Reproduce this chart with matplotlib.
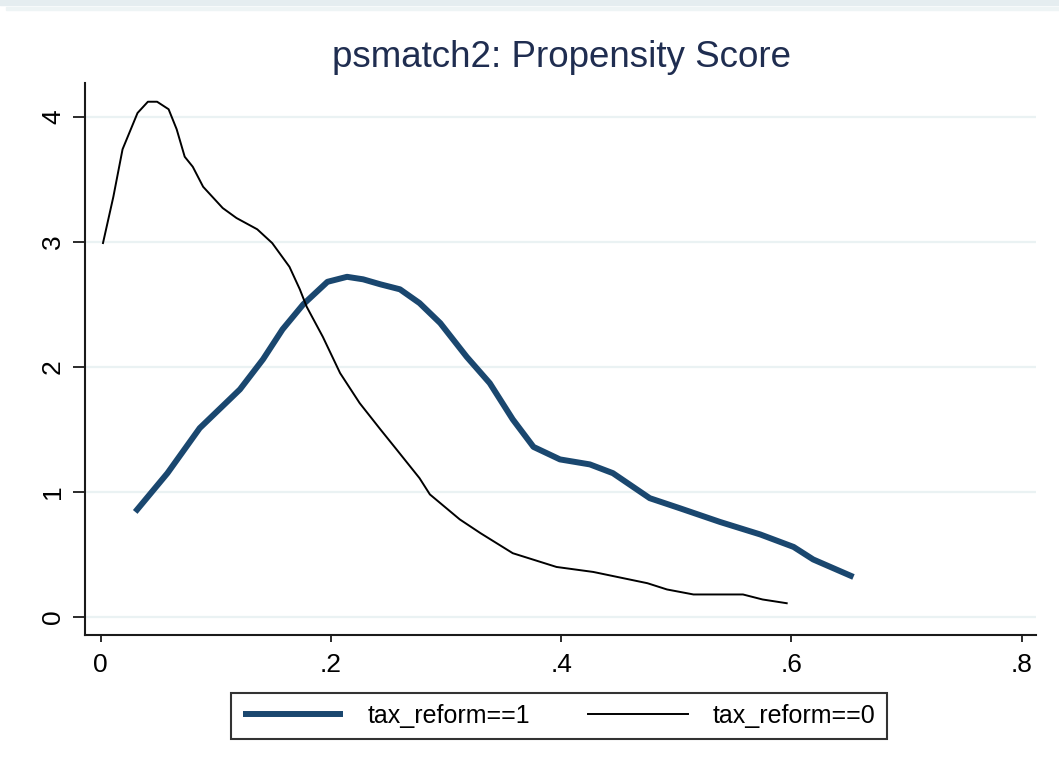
import matplotlib.pyplot as plt
from matplotlib.patches import Rectangle

plt.rcParams['font.family'] = ['Liberation Sans', 'DejaVu Sans']

# kernel density of propensity score, treated group (tax_reform==1)
ps_treated = [0.030, 0.058, 0.086, 0.112, 0.121, 0.141, 0.158, 0.176, 0.197, 0.214,
              0.228, 0.243, 0.260, 0.277, 0.295, 0.318, 0.338, 0.358, 0.376, 0.399,
              0.425, 0.445, 0.477, 0.503, 0.538, 0.573, 0.602, 0.619, 0.654]
dens_treated = [0.84, 1.15, 1.51, 1.74, 1.82, 2.06, 2.30, 2.50, 2.68, 2.72,
                2.70, 2.66, 2.62, 2.51, 2.35, 2.08, 1.87, 1.58, 1.36, 1.26,
                1.22, 1.15, 0.95, 0.87, 0.76, 0.66, 0.56, 0.46, 0.32]

# control group (tax_reform==0)
ps_control = [0.002, 0.011, 0.019, 0.032, 0.041, 0.049, 0.059, 0.066, 0.073, 0.080,
              0.089, 0.106, 0.118, 0.136, 0.149, 0.164, 0.173, 0.179, 0.193, 0.208,
              0.225, 0.243, 0.257, 0.277, 0.286, 0.312, 0.330, 0.358, 0.396, 0.428,
              0.475, 0.492, 0.515, 0.558, 0.575, 0.596]
dens_control = [2.99, 3.36, 3.74, 4.03, 4.12, 4.12, 4.06, 3.90, 3.68, 3.60,
                3.44, 3.27, 3.19, 3.10, 2.99, 2.80, 2.62, 2.48, 2.24, 1.95,
                1.71, 1.50, 1.34, 1.11, 0.98, 0.78, 0.67, 0.51, 0.40, 0.36,
                0.27, 0.22, 0.18, 0.18, 0.14, 0.11]

xticks = [0, 0.2, 0.4, 0.6, 0.8]
xticklabels = ['0', '.2', '.4', '.6', '.8']
yticks = [0, 1, 2, 3, 4]

navy = '#1a476f'

fig = plt.figure(figsize=(10.59, 7.74), dpi=100)
# screenshot band at the top
fig.patches.append(Rectangle((0, 1 - 4.5 / 774), 1, 4.5 / 774, transform=fig.transFigure,
                             color='#e5edf0', zorder=0))
fig.patches.append(Rectangle((6 / 1059, 1 - 9.5 / 774), 1, 2.5 / 774, transform=fig.transFigure,
                             color='#eef4f5', zorder=0))

ax = fig.add_axes([0.0803, 0.1796, 0.898, 0.7132])
ax.plot(ps_treated, dens_treated, color=navy, lw=4.3, solid_capstyle='butt',
        label='tax_reform==1', zorder=3)
ax.plot(ps_control, dens_control, color='black', lw=1.4, label='tax_reform==0', zorder=3)

ax.set_xlim(-0.0136, 0.8126)
ax.set_ylim(-0.144, 4.27)
ax.set_xticks(xticks)
ax.set_xticklabels(xticklabels)
ax.set_yticks(yticks)
ax.set_yticklabels([str(v) for v in yticks], rotation=90, va='center')

for s in ['top', 'right']:
    ax.spines[s].set_visible(False)
for s in ['left', 'bottom']:
    ax.spines[s].set_linewidth(1.5)
    ax.spines[s].set_color('#1a1a1a')

ax.grid(axis='y', color='#eaf2f3', lw=1.6, zorder=0)
ax.tick_params(axis='y', length=8.5, width=1.3, labelsize=19, pad=6, color='#1a1a1a')
ax.tick_params(axis='x', length=5, width=1.3, labelsize=19, pad=8, color='#1a1a1a')

fig.text(0.53, 0.926, 'psmatch2: Propensity Score', ha='center', va='center',
         fontsize=26.5, color='#1f2d50')

leg = ax.legend(loc='center', bbox_to_anchor=(0.528, 0.075), bbox_transform=fig.transFigure,
                ncol=2, fontsize=18, frameon=True, fancybox=False, edgecolor='black',
                handlelength=4.0, handletextpad=1.0, columnspacing=2.3,
                borderpad=0.45, borderaxespad=0)
leg.get_frame().set_linewidth(1.5)

fig.savefig('out.png', dpi=100)
